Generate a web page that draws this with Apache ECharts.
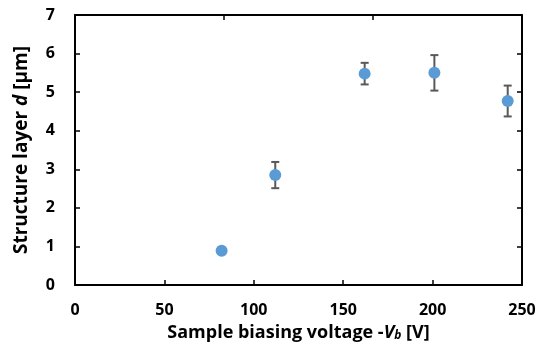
<!DOCTYPE html>
<html><head><meta charset="utf-8">
<script src="https://cdn.jsdelivr.net/npm/echarts@6/dist/echarts.min.js"></script>
<style>html,body{margin:0;padding:0;background:#fff}#c{width:543px;height:351px}</style>
</head><body><div id="c"></div>
<script>
var voltage = [82, 112, 162, 201, 242];
var thickness = [0.89, 2.85, 5.48, 5.50, 4.77];
var errorBar = [0.05, 0.34, 0.28, 0.46, 0.40];
var xTicks = [0, 50, 100, 150, 200, 250];
var yTicks = [0, 1, 2, 3, 4, 5, 6, 7];

var FONT = '"Open Sans", "Noto Sans", sans-serif';
var pts = voltage.map(function(v, i){ return [v, thickness[i]]; });
var errs = voltage.map(function(v, i){ return [v, thickness[i] - errorBar[i], thickness[i] + errorBar[i]]; });

var chart = echarts.init(document.getElementById('c'));
var axisLine = {show: true, onZero: false, lineStyle: {color: '#000', width: 2}};
var tick = {inside: true, length: 5, lineStyle: {color: '#000', width: 1.5}};
chart.setOption({
  animation: false,
  grid: {left: 75, right: 21, top: 15, bottom: 66},
  xAxis: [{
    type: 'value', min: xTicks[0], max: xTicks[xTicks.length-1], interval: 50,
    axisLine: axisLine, axisTick: tick,
    splitLine: {show: false},
    axisLabel: {color: '#000', fontFamily: FONT, fontWeight: 'bold', fontSize: 16, margin: 17},
    name: '{n|Sample biasing voltage -}{i|V}{s|b}{n| [V]}', nameLocation: 'middle', nameGap: 38,
    nameTextStyle: {rich: {
      n: {fontFamily: FONT, fontWeight: 'bold', fontSize: 18, color: '#000'},
      i: {fontFamily: FONT, fontWeight: 'bold', fontStyle: 'italic', fontSize: 18, color: '#000'},
      s: {fontFamily: FONT, fontWeight: 'bold', fontStyle: 'italic', fontSize: 12, color: '#000', verticalAlign: 'bottom', padding: [7,0,0,0]}
    }}
  }, {
    type: 'value', position: 'top', min: 0, max: 3, interval: 1,
    axisLine: axisLine, axisTick: tick,
    axisLabel: {show: false}, splitLine: {show: false}
  }],
  yAxis: [{
    type: 'value', min: yTicks[0], max: yTicks[yTicks.length-1], interval: 1,
    axisLine: axisLine, axisTick: tick,
    splitLine: {show: false},
    axisLabel: {color: '#000', fontFamily: FONT, fontWeight: 'bold', fontSize: 16, margin: 20},
    name: '{n|Structure layer }{i|d}{n| [µm]}', nameLocation: 'middle', nameGap: 44,
    nameTextStyle: {rich: {
      n: {fontFamily: FONT, fontWeight: 'bold', fontSize: 19, color: '#000'},
      i: {fontFamily: FONT, fontWeight: 'bold', fontStyle: 'italic', fontSize: 19, color: '#000'}
    }}
  }, {
    type: 'value', position: 'right', min: 0, max: 7, interval: 1,
    axisLine: axisLine, axisTick: tick,
    axisLabel: {show: false}, splitLine: {show: false}
  }],
  series: [{
    type: 'custom',
    data: errs,
    renderItem: function(params, api){
      var x = api.value(0);
      var lo = api.coord([x, api.value(1)]);
      var hi = api.coord([x, api.value(2)]);
      var w = 4;
      var st = {stroke: '#595959', lineWidth: 2};
      return {type: 'group', children: [
        {type: 'line', shape: {x1: lo[0], y1: lo[1], x2: hi[0], y2: hi[1]}, style: st},
        {type: 'line', shape: {x1: lo[0]-w, y1: lo[1], x2: lo[0]+w, y2: lo[1]}, style: st},
        {type: 'line', shape: {x1: hi[0]-w, y1: hi[1], x2: hi[0]+w, y2: hi[1]}, style: st}
      ]};
    },
    z: 2
  }, {
    type: 'scatter', data: pts, symbol: 'circle', symbolSize: 12,
    itemStyle: {color: '#5B9BD5', opacity: 1}, z: 3
  }]
});
</script></body></html>
